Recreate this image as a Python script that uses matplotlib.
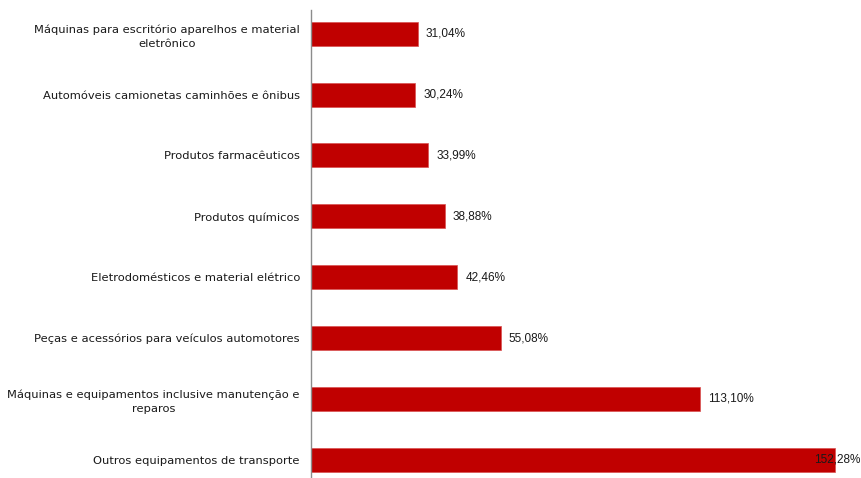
import matplotlib
matplotlib.use("Agg")
import matplotlib.pyplot as plt

categories = [
    "Máquinas para escritório aparelhos e material\neletrônico",
    "Automóveis camionetas caminhões e ônibus",
    "Produtos farmacêuticos",
    "Produtos químicos",
    "Eletrodomésticos e material elétrico",
    "Peças e acessórios para veículos automotores",
    "Máquinas e equipamentos inclusive manutenção e\nreparos",
    "Outros equipamentos de transporte",
]
values = [31.04, 30.24, 33.99, 38.88, 42.46, 55.08, 113.10, 152.28]
labels = ["31,04%", "30,24%", "33,99%", "38,88%", "42,46%", "55,08%", "113,10%", "152,28%"]

W, H = 862, 478
fig = plt.figure(figsize=(W / 100, H / 100), dpi=100)
ax = fig.add_axes([311 / W, 0, 1 - 311 / W, 1 - 10 / H])

pos = list(range(len(categories)))
ax.barh(pos, values, height=0.395, color="#C00000", edgecolor="#D85050", linewidth=0.5)

ax.set_ylim(7.3, -0.39)
ax.set_xlim(0, 160)
ax.set_yticks(pos)
ax.set_yticklabels(categories, fontsize=8.25, family="DejaVu Sans",
                   multialignment="center", color="#1a1a1a")
for lbl in ax.get_yticklabels():
    lbl.set_linespacing(1.45)
ax.tick_params(axis="y", length=0, pad=8)
ax.set_xticks([])
for s in ["top", "right", "bottom"]:
    ax.spines[s].set_visible(False)
ax.spines["left"].set_color("#8c8c8c")
ax.spines["left"].set_linewidth(1)

# value labels just right of each bar; the longest one sits over its bar end
for i, (v, t) in enumerate(zip(values, labels)):
    off = 8 if i < len(values) - 1 else -21
    ax.annotate(t, (v, i), xytext=(off, 0), textcoords="offset pixels",
                ha="left", va="center", fontsize=8.5, family="Liberation Sans", color="#1a1a1a")

fig.savefig("out.png", dpi=100)
